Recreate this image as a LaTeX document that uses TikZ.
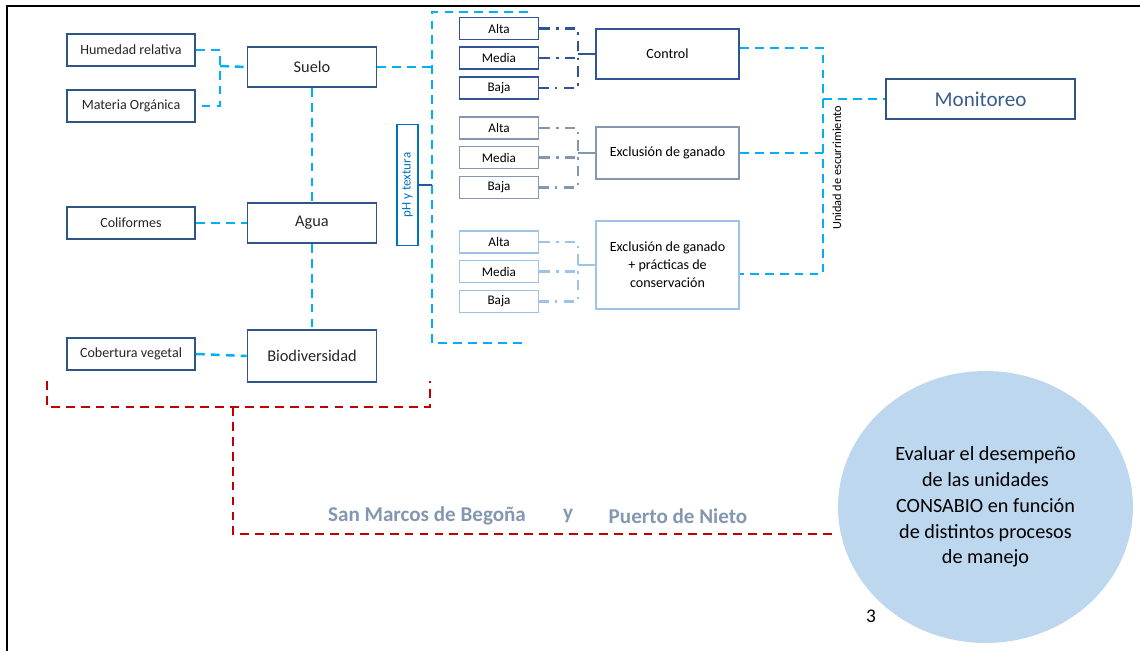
\documentclass[tikz,border=0pt]{standalone}
\usepackage{fontspec}
\setmainfont{Carlito}
\usetikzlibrary{shapes.geometric}

\definecolor{cian}{HTML}{00B0F0}
\definecolor{marco}{HTML}{2F5486}
\definecolor{grupoA}{HTML}{2F5597}
\definecolor{grupoB}{HTML}{8497B0}
\definecolor{grupoC}{HTML}{9DC3E6}
\definecolor{rojo}{HTML}{C00000}
\definecolor{circulo}{HTML}{BDD7EE}
\definecolor{azultexto}{HTML}{0070C0}
\definecolor{gristexto}{HTML}{8497B0}
\definecolor{monitexto}{HTML}{385D8A}

\tikzset{
  caja/.style={draw=marco, line width=1.1pt, inner sep=0pt, text=black!85},
  lateral/.style={caja, minimum width=2.56cm, minimum height=0.64cm, font=\fontsize{8}{9.6}\selectfont},
  principal/.style={caja, minimum width=2.58cm, minimum height=0.8cm, font=\fontsize{9.3}{11}\selectfont},
  nivel/.style={line width=1.1pt, inner sep=0pt, minimum width=1.58cm, minimum height=0.44cm, font=\fontsize{7.5}{9}\selectfont},
  trato/.style={line width=1.1pt, inner sep=0pt, minimum width=2.86cm, align=center, font=\fontsize{8}{10.2}\selectfont},
  conector/.style={draw=cian, line width=1.4pt, dash pattern=on 5pt off 3.5pt},
  punteo/.style={line width=1.4pt, dash pattern=on 6pt off 3.5pt on 1.5pt off 3.5pt},
  rojol/.style={draw=rojo, line width=1.4pt, dash pattern=on 5pt off 3.5pt},
  sitio/.style={text=gristexto, font=\bfseries\fontsize{12}{14}\selectfont}
}

\begin{document}
\begin{tikzpicture}[x=0.02cm, y=-0.02cm, line join=miter]
\useasboundingbox (0,0) rectangle (1140,651);
% marco
\draw[line width=1.1pt] (7,651) -- (7,6) -- (1140,6);

% variables
\node[lateral] (hum) at (131,50) {Humedad relativa};
\node[lateral] (mat) at (131,106) {Materia Orgánica};
\node[lateral] (coli) at (131,223) {Coliformes};
\node[lateral] (cob) at (131,354) {Cobertura vegetal};
\node[principal] (suelo) at (312,67) {Suelo};
\node[principal] (agua) at (312,223) {Agua};
\node[principal, minimum height=1.04cm] (bio) at (312,356) {Biodiversidad};
\node[draw=azultexto, line width=1.1pt, rotate=90, inner sep=0pt, minimum width=2.42cm, minimum height=0.42cm, text=azultexto, font=\fontsize{7.4}{9}\selectfont] (ph) at (407.5,185) {pH y textura};

\coordinate (bh) at (220,66);
\draw[conector] (hum.east) -| (bh) |- (mat.east);
\draw[conector] (bh) -- (suelo.west);
\draw[conector] (coli.east) -- (agua.west);
\draw[conector] (cob.east) -- (bio.west);
\draw[conector] (suelo.south) -- (agua.north);
\draw[conector] (agua.south) -- (bio.north);

% llave de tratamientos
\coordinate (llaveA) at (528,12);
\coordinate (llaveT) at (432,12);
\coordinate (llaveB) at (526,343);
\draw[conector] (llaveA) -- (llaveT) |- (llaveB);
\draw[conector] (suelo.east) -- (suelo.east -| llaveT);
\draw[draw=grupoA, line width=1.1pt] (ph.south) -- (ph.south -| llaveT);

% tratamientos
\node[trato, draw=grupoA, minimum height=1.0cm] (trat1) at (667.5,54) {Control};
\node[trato, draw=grupoB, minimum height=1.04cm] (trat2) at (667.5,153) {Exclusión de ganado};
\node[trato, draw=grupoC, minimum height=1.76cm] (trat3) at (667.5,265) {Exclusión de ganado\\+ prácticas de\\conservación};

\foreach \g/\col/\y in {1/grupoA/28.5, 2/grupoB/128, 3/grupoC/242}{
  \node[nivel, draw=\col] (alta\g) at (499,\y) {Alta};
  \node[nivel, draw=\col] (media\g) at (499,\y+29.5) {Media};
  \node[nivel, draw=\col] (baja\g) at (499,\y+59.5) {Baja};
  \coordinate (esq\g) at (578,\y+29.5);
  \draw[punteo, draw=\col] (alta\g.east) -| (esq\g) |- (baja\g.east);
  \draw[punteo, draw=\col] (media\g.east) -- (esq\g);
  \draw[draw=\col, line width=1.4pt] (trat\g.west) -- (trat\g.west -| esq\g);
}

% monitoreo
\node[caja, minimum width=3.78cm, minimum height=0.8cm, text=monitexto, font=\fontsize{12}{14}\selectfont] (moni) at (980.5,99) {Monitoreo};
\coordinate (unid) at (823,99);
\draw[conector] ([yshift=3.4pt]trat1.east) -| (unid) |- ([yshift=-5.1pt]trat3.east);
\draw[conector] (trat2.east) -- (trat2.east -| unid);
\draw[conector] (unid) -- (moni.west);
\node[rotate=90, inner sep=0pt, font=\fontsize{7}{8}\selectfont] (unidtxt) at (837,168) {Unidad de escurrimiento};

% objetivo
\node[ellipse, fill=circulo, inner sep=0pt, minimum width=5.9cm, minimum height=5.44cm, align=center, font=\fontsize{11.5}{14.7}\selectfont] (meta) at (985.5,507) {Evaluar el desempeño\\de las unidades\\CONSABIO en función\\de distintos procesos\\de manejo};
\node[font=\fontsize{11}{13}\selectfont] (pag) at (871,616) {3};

% sitios
\coordinate (rI) at (47,381);
\coordinate (rD) at (430,381);
\coordinate (rM) at (233,407);
\coordinate (rB) at (233,534);
\draw[rojol] (rI) |- (rM) -| (rD);
\draw[rojol] (rM) -- (rB) -- (rB -| meta.west);
\node[sitio] (sanm) at (427,516) {San Marcos de Begoña};
\node[sitio] (yy) at (568,516) {y};
\node[sitio] (puerto) at (678,516) {Puerto de Nieto};
\end{tikzpicture}
\end{document}
